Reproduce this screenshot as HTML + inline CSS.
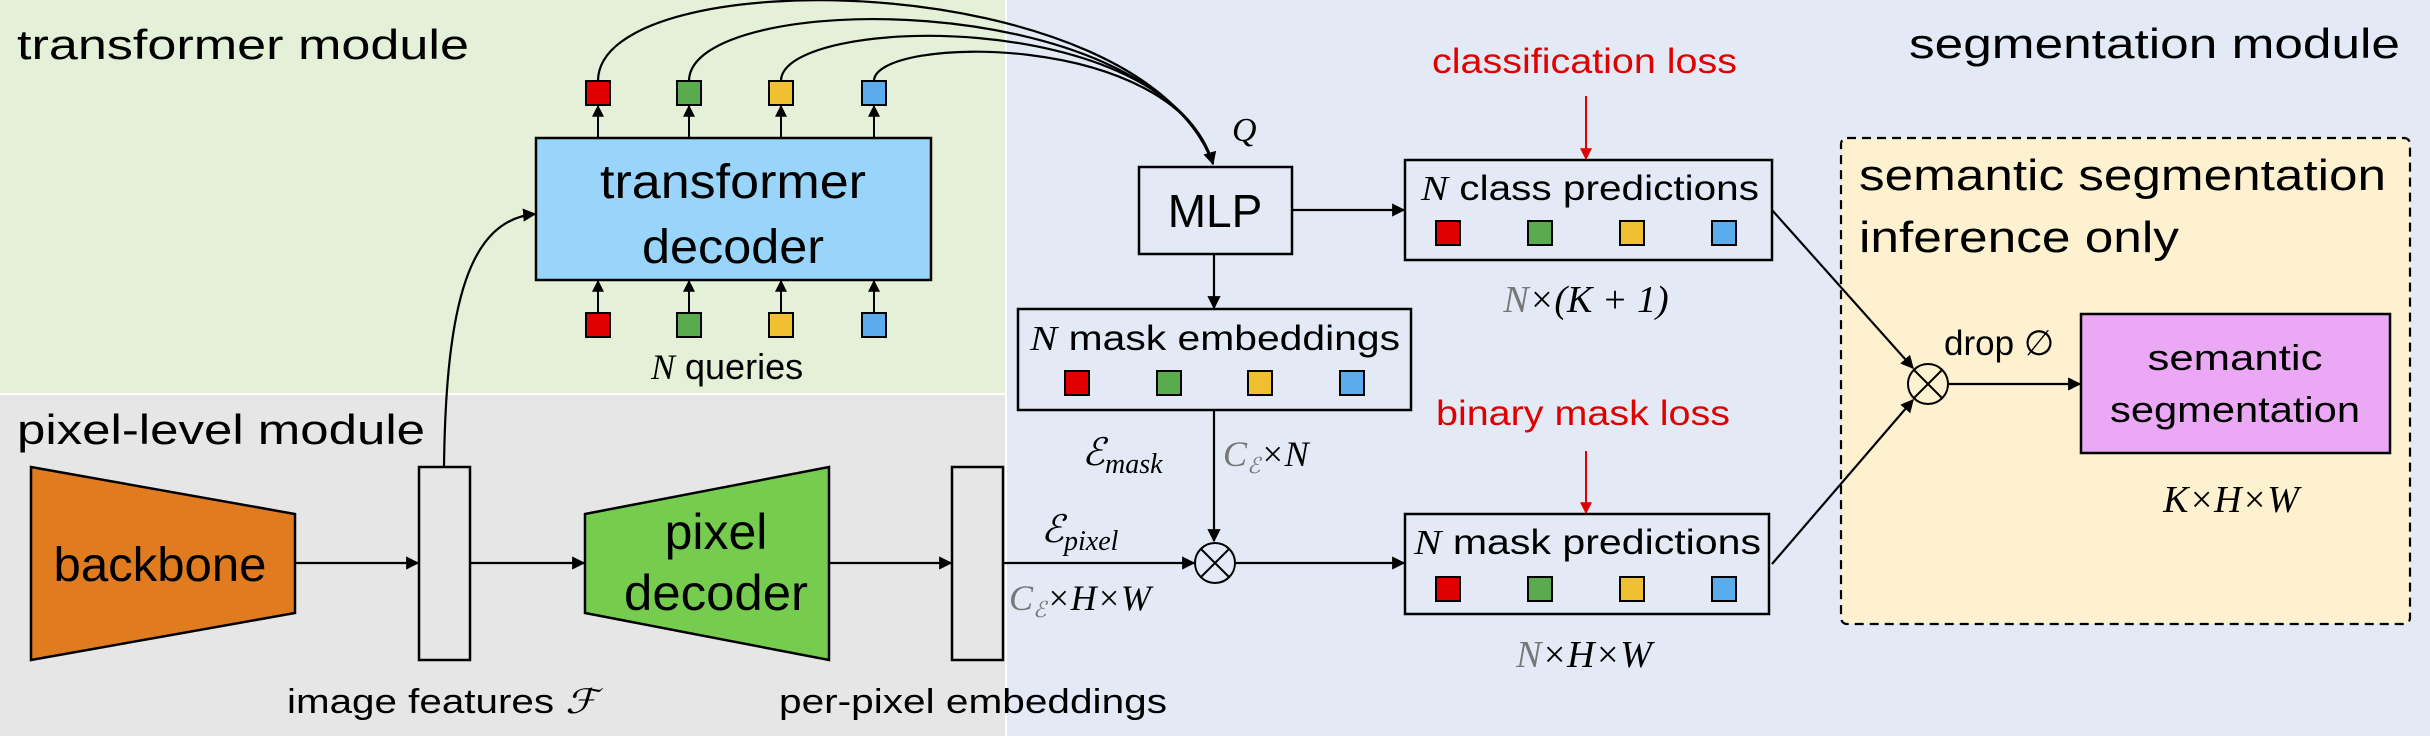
<!DOCTYPE html>
<html><head><meta charset="utf-8"><style>
html,body{margin:0;padding:0;background:#fff}
svg{display:block}
text{font-family:"Liberation Sans",sans-serif;fill:#000}
.m{font-family:"Liberation Serif",serif;font-style:italic}
</style></head><body>
<svg width="2430" height="736" viewBox="0 0 2430 736" xmlns="http://www.w3.org/2000/svg">
<defs>
<marker id="a" viewBox="0 0 10 10" refX="9" refY="5" markerWidth="6" markerHeight="6" orient="auto" markerUnits="strokeWidth"><path d="M0,0 L10,5 L0,10z" fill="#000"/></marker>
<marker id="r" viewBox="0 0 10 10" refX="9" refY="5" markerWidth="6" markerHeight="6" orient="auto" markerUnits="strokeWidth"><path d="M0,0 L10,5 L0,10z" fill="#e00000"/></marker>
</defs>
<rect x="0" y="0" width="1005" height="393" fill="#e5f0d9"/>
<rect x="0" y="395" width="1005" height="341" fill="#e6e6e6"/>
<rect x="1007" y="0" width="1423" height="736" fill="#e3eaf6"/>

<text x="17" y="59" font-size="42" textLength="452" lengthAdjust="spacingAndGlyphs">transformer module</text>
<text x="17" y="444" font-size="42" textLength="408" lengthAdjust="spacingAndGlyphs">pixel-level module</text>
<text x="1909" y="58" font-size="42" textLength="491" lengthAdjust="spacingAndGlyphs">segmentation module</text>

<!-- transformer decoder -->
<rect x="536" y="138" width="395" height="142" fill="#99d5fb" stroke="#000" stroke-width="2.5"/>
<text x="733" y="198" font-size="48" text-anchor="middle" textLength="266" lengthAdjust="spacingAndGlyphs">transformer</text>
<text x="733" y="263" font-size="48" text-anchor="middle" textLength="182" lengthAdjust="spacingAndGlyphs">decoder</text>
<g stroke="#000" stroke-width="2">
<rect x="586" y="81" width="24" height="24" fill="#e00000"/>
<rect x="677" y="81" width="24" height="24" fill="#5aaa4e"/>
<rect x="769" y="81" width="24" height="24" fill="#f0c030"/>
<rect x="862" y="81" width="24" height="24" fill="#5aacec"/>
<rect x="586" y="313" width="24" height="24" fill="#e00000"/>
<rect x="677" y="313" width="24" height="24" fill="#5aaa4e"/>
<rect x="769" y="313" width="24" height="24" fill="#f0c030"/>
<rect x="862" y="313" width="24" height="24" fill="#5aacec"/>
<g marker-end="url(#a)">
<line x1="598" y1="138" x2="598" y2="106"/><line x1="689" y1="138" x2="689" y2="106"/><line x1="781" y1="138" x2="781" y2="106"/><line x1="874" y1="138" x2="874" y2="106"/>
<line x1="598" y1="313" x2="598" y2="281"/><line x1="689" y1="313" x2="689" y2="281"/><line x1="781" y1="313" x2="781" y2="281"/><line x1="874" y1="313" x2="874" y2="281"/>
</g>
<g fill="none" stroke-width="2.2">
<path d="M598 81 C598 -40 1140 -35 1213 164"/>
<path d="M689 81 C689 -10 1150 -15 1213 164"/>
<path d="M781 81 C781 15 1165 5 1213 164"/>
<path d="M874 81 C874 35 1175 30 1213 164" marker-end="url(#a)"/>
</g>
</g>
<text x="651" y="379" font-size="36"><tspan class="m">N</tspan> queries</text>

<!-- pixel level -->
<polygon points="31,467 295,514 295,613 31,660" fill="#e07b20" stroke="#000" stroke-width="2.5"/>
<text x="160" y="581" font-size="48" text-anchor="middle" textLength="213" lengthAdjust="spacingAndGlyphs">backbone</text>
<rect x="419" y="467" width="51" height="193" fill="#e6e6e6" stroke="#000" stroke-width="2.5"/>
<polygon points="585,514 829,467 829,660 585,613" fill="#76cc4f" stroke="#000" stroke-width="2.5"/>
<text x="716" y="549" font-size="50" text-anchor="middle">pixel</text>
<text x="716" y="610" font-size="50" text-anchor="middle" textLength="184" lengthAdjust="spacingAndGlyphs">decoder</text>
<rect x="952" y="467" width="51" height="193" fill="#e6e6e6" stroke="#000" stroke-width="2.5"/>
<g stroke="#000" stroke-width="2.2" fill="none" marker-end="url(#a)">
<line x1="295" y1="563" x2="418" y2="563"/>
<line x1="470" y1="563" x2="584" y2="563"/>
<line x1="829" y1="563" x2="951" y2="563"/>
<line x1="1003" y1="563" x2="1194" y2="563"/>
<path d="M444 467 C446 300 470 220 535 214"/>
</g>
<text x="287" y="713" font-size="34" textLength="310" lengthAdjust="spacingAndGlyphs">image features <tspan class="m">ℱ</tspan></text>
<text x="779" y="713" font-size="34" textLength="388" lengthAdjust="spacingAndGlyphs">per-pixel embeddings</text>

<!-- segmentation -->
<rect x="1841" y="138" width="569" height="486" rx="6" fill="#fdf1cf" stroke="#000" stroke-width="2.2" stroke-dasharray="9,6"/>
<text x="1859" y="190" font-size="44" textLength="527" lengthAdjust="spacingAndGlyphs">semantic segmentation</text>
<text x="1859" y="252" font-size="44" textLength="320" lengthAdjust="spacingAndGlyphs">inference only</text>

<rect x="1139" y="167" width="153" height="87" fill="#e3eaf6" stroke="#000" stroke-width="2.5"/>
<text x="1215" y="227" font-size="46" text-anchor="middle">MLP</text>
<text x="1232" y="141" font-size="34" class="m">Q</text>

<rect x="1405" y="160" width="367" height="100" fill="#e3eaf6" stroke="#000" stroke-width="2.5"/>
<text x="1421" y="200" font-size="35" textLength="338" lengthAdjust="spacingAndGlyphs"><tspan class="m">N</tspan> class predictions</text>
<rect x="1018" y="309" width="393" height="101" fill="#e3eaf6" stroke="#000" stroke-width="2.5"/>
<text x="1030" y="350" font-size="35" textLength="370" lengthAdjust="spacingAndGlyphs"><tspan class="m">N</tspan> mask embeddings</text>
<rect x="1405" y="514" width="364" height="100" fill="#e3eaf6" stroke="#000" stroke-width="2.5"/>
<text x="1414" y="554" font-size="35" textLength="347" lengthAdjust="spacingAndGlyphs"><tspan class="m">N</tspan> mask predictions</text>
<rect x="2081" y="314" width="309" height="139" fill="#eba8f5" stroke="#000" stroke-width="2.5"/>
<text x="2235" y="370" font-size="36" text-anchor="middle" textLength="175" lengthAdjust="spacingAndGlyphs">semantic</text>
<text x="2235" y="422" font-size="36" text-anchor="middle" textLength="250" lengthAdjust="spacingAndGlyphs">segmentation</text>

<g stroke="#000" stroke-width="2">
<rect x="1436" y="221" width="24" height="24" fill="#e00000"/><rect x="1528" y="221" width="24" height="24" fill="#5aaa4e"/><rect x="1620" y="221" width="24" height="24" fill="#f0c030"/><rect x="1712" y="221" width="24" height="24" fill="#5aacec"/>
<rect x="1065" y="371" width="24" height="24" fill="#e00000"/><rect x="1157" y="371" width="24" height="24" fill="#5aaa4e"/><rect x="1248" y="371" width="24" height="24" fill="#f0c030"/><rect x="1340" y="371" width="24" height="24" fill="#5aacec"/>
<rect x="1436" y="577" width="24" height="24" fill="#e00000"/><rect x="1528" y="577" width="24" height="24" fill="#5aaa4e"/><rect x="1620" y="577" width="24" height="24" fill="#f0c030"/><rect x="1712" y="577" width="24" height="24" fill="#5aacec"/>
</g>

<g stroke="#000" stroke-width="2.2" fill="none" marker-end="url(#a)">
<line x1="1292" y1="210" x2="1404" y2="210"/>
<line x1="1214" y1="254" x2="1214" y2="308"/>
<line x1="1214" y1="410" x2="1214" y2="541"/>
<line x1="1236" y1="563" x2="1404" y2="563"/>
<line x1="1772" y1="210" x2="1913" y2="368"/>
<line x1="1772" y1="564" x2="1913" y2="400"/>
<line x1="1949" y1="384" x2="2080" y2="384"/>
</g>
<line x1="1586" y1="96" x2="1586" y2="159" stroke="#e00000" stroke-width="2" marker-end="url(#r)"/>
<line x1="1586" y1="451" x2="1586" y2="513" stroke="#e00000" stroke-width="2" marker-end="url(#r)"/>

<g fill="#e3eaf6" stroke="#000" stroke-width="2">
<circle cx="1215" cy="563" r="20"/>
<path d="M1201 549 L1229 577 M1229 549 L1201 577"/>
<circle cx="1928" cy="384" r="20" fill="#fdf1cf"/>
<path d="M1914 370 L1942 398 M1942 370 L1914 398"/>
</g>

<text x="1432" y="73" font-size="35" style="fill:#e00000" textLength="305" lengthAdjust="spacingAndGlyphs">classification loss</text>
<text x="1436" y="425" font-size="35" style="fill:#e00000" textLength="294" lengthAdjust="spacingAndGlyphs">binary mask loss</text>
<text x="1586" y="312" font-size="38" text-anchor="middle" class="m"><tspan style="fill:#777">N</tspan>×(K + 1)</text>
<text x="1584" y="667" font-size="38" text-anchor="middle" class="m"><tspan style="fill:#777">N</tspan>×H×W</text>
<text x="2231" y="512" font-size="38" text-anchor="middle" class="m">K×H×W</text>
<text x="1082" y="465" font-size="38" class="m">ℰ<tspan font-size="28" dy="8">mask</tspan></text>
<text x="1223" y="466" font-size="36" class="m"><tspan style="fill:#777">C<tspan font-size="22" dy="7">ℰ</tspan></tspan><tspan dy="-7">×N</tspan></text>
<text x="1041" y="542" font-size="38" class="m">ℰ<tspan font-size="28" dy="8">pixel</tspan></text>
<text x="1009" y="610" font-size="36" class="m"><tspan style="fill:#777">C<tspan font-size="22" dy="7">ℰ</tspan></tspan><tspan dy="-7">×H×W</tspan></text>
<text x="1944" y="355" font-size="35">drop ∅</text>
</svg>
</body></html>
